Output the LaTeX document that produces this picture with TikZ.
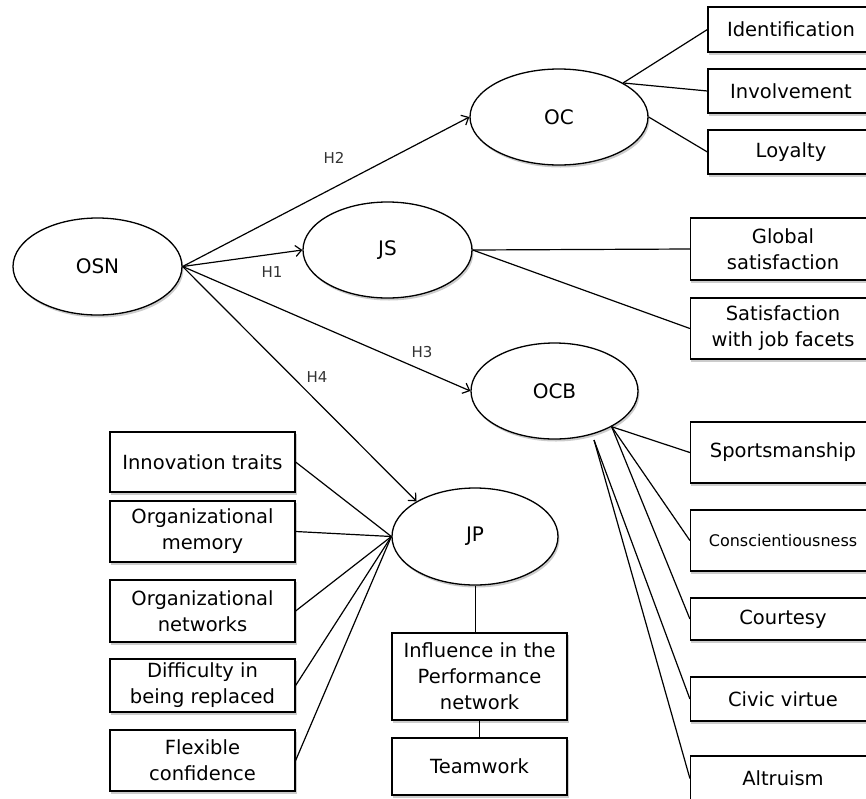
\documentclass[tikz,border=0pt]{standalone}
\usepackage{fontspec}
\setmainfont{DejaVu Sans}
\usetikzlibrary{shapes.geometric,arrows.meta,backgrounds}

\begin{document}
\begin{tikzpicture}[x=1pt,y=-1pt,
  shadowfill/.style={fill=black!20},
  construct/.style={ellipse,draw,line width=1.3pt,fill=white,inner sep=0pt,
      font=\fontsize{20}{23}\selectfont},
  itembox/.style={rectangle,draw,line width=1.2pt,fill=white,inner sep=0pt,
      align=center,font=\fontsize{19.5}{26}\selectfont},
  rboxa/.style={itembox,minimum width=166pt},
  rboxb/.style={itembox,minimum width=185pt},
  lbox/.style={itembox,minimum width=185pt},
  cbox/.style={itembox,minimum width=175pt},
  link/.style={line width=1.2pt},
  hypo/.style={line width=1.2pt,-{Straight Barb[length=6pt,width=11pt,line width=1.2pt]}},
  hlabel/.style={text=black!80,font=\fontsize{15}{17}\selectfont,inner sep=0pt}
]
\useasboundingbox (0,0) rectangle (866,798);

% latent constructs
\node[construct,minimum width=169pt,minimum height=97pt] (OSN) at (97.5,266.5) {OSN};
\node[construct,minimum width=178pt,minimum height=96pt] (OC)  at (559,117) {OC};
\node[construct,minimum width=169pt,minimum height=96pt] (JS)  at (387.5,250) {JS};
\node[construct,minimum width=167pt,minimum height=96pt] (OCB) at (554.5,391) {OCB};
\node[construct,minimum width=166pt,minimum height=97pt] (JP)  at (475,536.5) {JP};

% indicators of OC
\node[rboxa,minimum height=45pt] (Ident) at (791,29.5) {Identification};
\node[rboxa,minimum height=44pt] (Invol) at (791,91) {Involvement};
\node[rboxa,minimum height=44pt] (Loyal) at (791,152) {Loyalty};

% indicators of JS
\node[rboxb,minimum height=62pt] (Glob) at (783,249) {Global\\satisfaction};
\node[rboxb,minimum height=61pt] (Facet) at (783,328.5) {Satisfaction\\with job facets};

% indicators of OCB
\node[rboxb,minimum height=61pt] (Sport) at (783,452.5) {Sportsmanship};
\node[rboxb,minimum height=61pt,font=\fontsize{16}{20}\selectfont] (Consc) at (783,540.5) {Conscientiousness};
\node[rboxb,minimum height=42pt] (Court) at (783,619) {Courtesy};
\node[rboxb,minimum height=44pt] (Civic) at (783,699) {Civic virtue};
\node[rboxb,minimum height=45pt] (Altru) at (783,778.5) {Altruism};

% indicators of JP
\node[lbox,minimum height=60pt] (Innov) at (202.5,462) {Innovation traits};
\node[lbox,minimum height=61pt] (OMem) at (202.5,531.5) {Organizational\\memory};
\node[lbox,minimum height=62pt] (ONet) at (202.5,611) {Organizational\\networks};
\node[lbox,minimum height=53pt] (Diff) at (202.5,685.5) {Difficulty in\\being replaced};
\node[lbox,minimum height=61pt] (Flex) at (202.5,760.5) {Flexible\\confidence};
\node[cbox,minimum height=87pt] (Infl) at (479.5,676.5) {Influence in the\\Performance\\network};
\node[cbox,minimum height=57pt] (Team) at (479.5,766.5) {Teamwork};

% soft drop shadows behind every shape
\begin{scope}[on background layer]
  \foreach \n/\rx/\ry in {OSN/84.5/48.5,OC/89/48,JS/84.5/48,OCB/83.5/48,JP/83/48.5}
    \fill[shadowfill] ([xshift=1.5pt,yshift=-2.5pt]\n.center)
      ellipse [x radius=\rx pt,y radius=\ry pt];
  \foreach \n in {Ident,Invol,Loyal,Glob,Facet,Sport,Consc,Court,Civic,Altru,
                  Innov,OMem,ONet,Diff,Flex,Infl,Team}
    \fill[shadowfill] ([xshift=1.5pt,yshift=-2.5pt]\n.south west)
      rectangle ([xshift=1.5pt,yshift=-2.5pt]\n.north east);
\end{scope}

% hypotheses
\draw[hypo] (OSN.east) -- (OC.west);
\draw[hypo] (OSN.east) -- (JS.west);
\draw[hypo] (OSN.east) -- (OCB.west);
\draw[hypo] (OSN.east) -- (JP.149);
\node[hlabel] (h2) at (334,158) {H2};
\node[hlabel] (h1) at (272,272) {H1};
\node[hlabel] (h3) at (422,352) {H3};
\node[hlabel] (h4) at (317,377) {H4};

% OC indicators
\draw[link] (OC.28) -- (Ident.west);
\draw[link] (OC.28) -- (Invol.west);
\draw[link] (OC.east) -- (Loyal.west);

% JS indicators
\draw[link] (JS.east) -- (Glob.west);
\draw[link] (JS.east) -- (Facet.west);

% OCB indicators
\coordinate (ocbfoot) at (594,440);
\draw[link] (OCB.-32) -- (Sport.west);
\draw[link] (OCB.-32) -- (Consc.west);
\draw[link] (OCB.-32) -- (Court.west);
\draw[link] (ocbfoot) -- (Civic.west);
\draw[link] (ocbfoot) -- (Altru.west);

% JP indicators
\draw[link] (Innov.east) -- (JP.west);
\draw[link] (OMem.east) -- (JP.west);
\draw[link] (ONet.east) -- (JP.west);
\draw[link] (Diff.east) -- (JP.west);
\draw[link] (Flex.east) -- (JP.west);
\draw[link] ([xshift=0.5pt]JP.south) -- ([xshift=0.5pt]JP.south |- Infl.north);
\draw[link] (Infl.south) -- (Team.north);
\end{tikzpicture}
\end{document}
